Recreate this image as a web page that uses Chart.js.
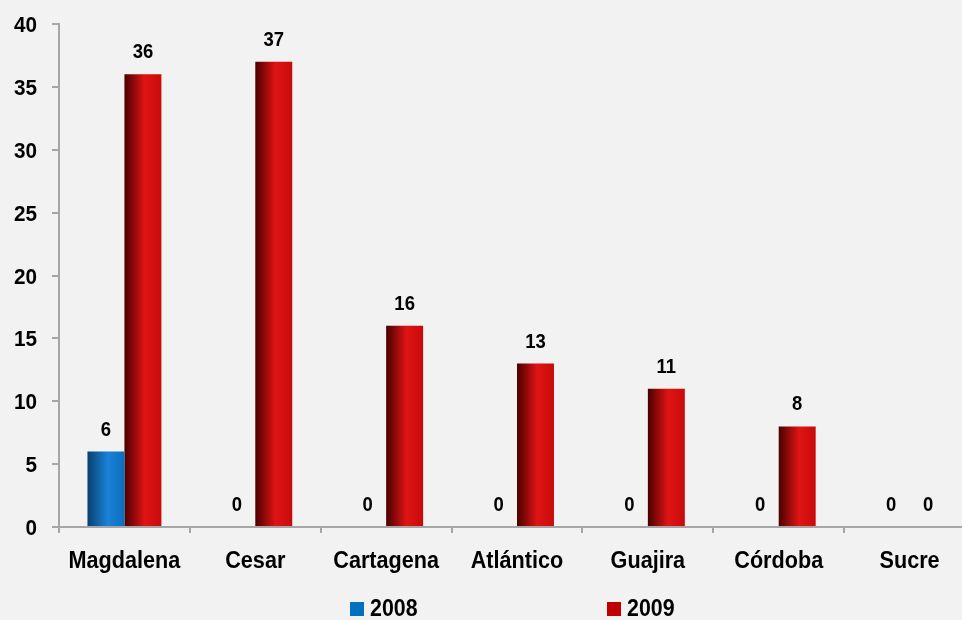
<!DOCTYPE html>
<html>
<head>
<meta charset="utf-8">
<script src="https://cdn.jsdelivr.net/npm/chart.js@4.4.0/dist/chart.umd.min.js"></script>
<style>
    html, body { margin: 0; padding: 0; background: #f2f2f2; overflow: hidden; }
    #wrap { width: 990px; height: 620px; position: relative; }
</style>
</head>
<body>
<div id="wrap"><canvas id="grafica"></canvas></div>
<script>
const categorias = ['Magdalena', 'Cesar', 'Cartagena', 'Atlántico', 'Guajira', 'Córdoba', 'Sucre'];
const anios = ['2008', '2009'];
const valores2008 = [6, 0, 0, 0, 0, 0, 0];
const valores2009 = [36, 37, 16, 13, 11, 8, 0];
const ticksY = [0, 5, 10, 15, 20, 25, 30, 35, 40];

const fuente = "'Liberation Sans', Arial, sans-serif";
const colores = ['#0070c0', '#c00000'];
const catPct = 0.565;

// texto algo estrecho (el original parece Arial Narrow)
function texto(ctx, t, x, y, size, escala, align) {
    ctx.save();
    ctx.font = 'bold ' + size + 'px ' + fuente;
    ctx.fillStyle = '#000';
    ctx.textAlign = align;
    ctx.textBaseline = 'alphabetic';
    ctx.translate(x, y);
    ctx.scale(escala, 1);
    ctx.fillText(t, 0, 0);
    ctx.restore();
}

// degradado horizontal de cada barra
function degradado(context) {
    const chart = context.chart;
    const x = chart.scales.x;
    if (!chart.chartArea || !x) return colores[context.datasetIndex];
    const centro = x.getPixelForValue(context.dataIndex);
    const ancho = x.width / categorias.length * catPct / 2;
    const izq = context.datasetIndex === 0 ? centro - ancho : centro;
    const g = chart.ctx.createLinearGradient(izq, 0, izq + ancho, 0);
    if (context.datasetIndex === 0) {
        g.addColorStop(0, '#08406f');
        g.addColorStop(0.55, '#1a82d8');
        g.addColorStop(1, '#0d6dbd');
    } else {
        g.addColorStop(0, '#4a0000');
        g.addColorStop(0.55, '#e01414');
        g.addColorStop(1, '#c80a0a');
    }
    return g;
}

const textos = {
    id: 'textos',
    afterDraw(chart) {
        const ctx = chart.ctx;
        const sx = chart.scales.x, sy = chart.scales.y;
        // etiquetas del eje Y
        ticksY.forEach(v => texto(ctx, String(v), sx.left - 22, sy.getPixelForValue(v) + 8, 22, 0.94, 'right'));
        // etiquetas de categorías
        categorias.forEach((c, i) => texto(ctx, c, sx.getPixelForValue(i), sy.bottom + 41, 23, 0.94, 'center'));
        // valores sobre las barras
        chart.data.datasets.forEach((ds, i) => {
            chart.getDatasetMeta(i).data.forEach((bar, j) => {
                texto(ctx, String(ds.data[j]), bar.x, bar.y - 16, 21, 0.88, 'center');
            });
        });
        // leyenda
        const posLeyenda = [350, 607];
        anios.forEach((a, i) => {
            ctx.fillStyle = colores[i];
            ctx.fillRect(posLeyenda[i], 602, 14, 14);
            texto(ctx, a, posLeyenda[i] + 20, 616, 24, 0.89, 'left');
        });
    }
};

const ctx = document.getElementById('grafica').getContext('2d');
new Chart(ctx, {
    type: 'bar',
    data: {
        labels: categorias,
        datasets: [
            { label: anios[0], data: valores2008, backgroundColor: degradado, borderWidth: 0 },
            { label: anios[1], data: valores2009, backgroundColor: degradado, borderWidth: 0 }
        ]
    },
    options: {
        responsive: true,
        maintainAspectRatio: false,
        animation: false,
        categoryPercentage: catPct,
        barPercentage: 1,
        layout: { padding: { top: 24, left: 52, right: 15, bottom: 87 } },
        plugins: {
            tooltip: { enabled: false },
            legend: { display: false }
        },
        scales: {
            x: {
                afterFit: axis => { axis.height = 6; },
                grid: { drawOnChartArea: false, drawTicks: true, tickLength: 6, color: '#a6a6a6', lineWidth: 2 },
                border: { display: true, color: '#a6a6a6', width: 2 },
                ticks: { display: false }
            },
            y: {
                min: 0,
                max: 40,
                afterFit: axis => { axis.width = 7; },
                afterBuildTicks: axis => { axis.ticks = ticksY.map(v => ({ value: v })); },
                grid: { drawOnChartArea: false, drawTicks: true, tickLength: 7, color: '#a6a6a6', lineWidth: 2 },
                border: { display: true, color: '#a6a6a6', width: 2 },
                ticks: { display: false }
            }
        }
    },
    plugins: [textos]
});
</script>
</body>
</html>
